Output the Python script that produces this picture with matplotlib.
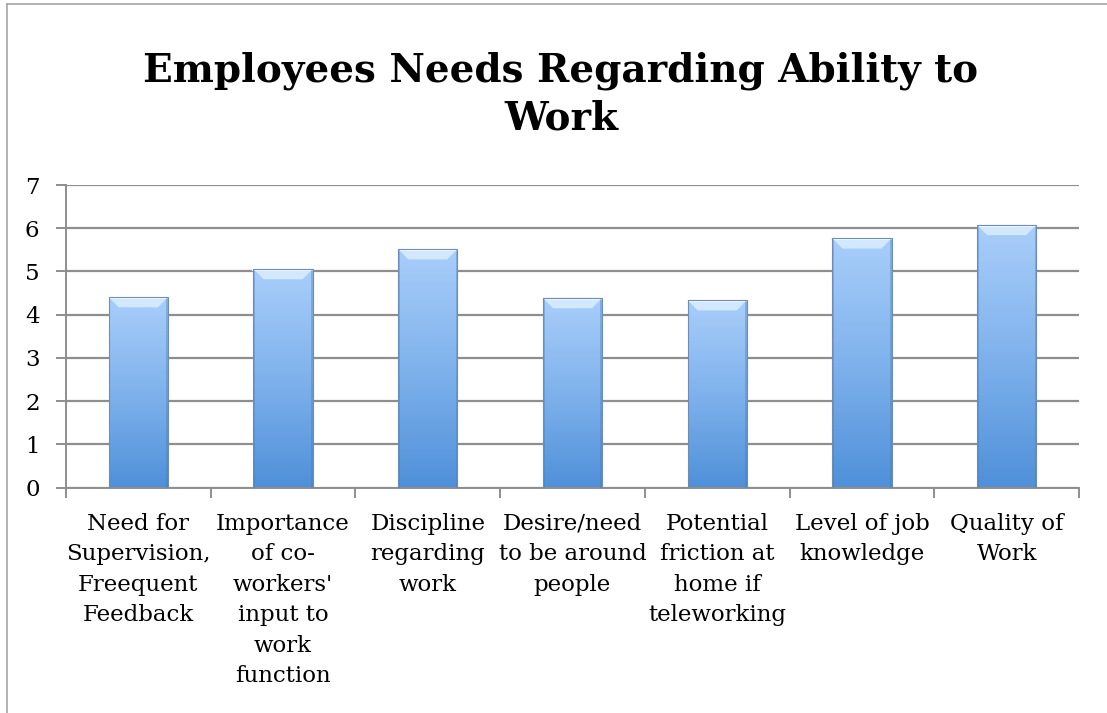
import numpy as np
import matplotlib.pyplot as plt
from matplotlib.colors import LinearSegmentedColormap
from matplotlib.patches import Polygon
from matplotlib.lines import Line2D

# survey averages per item
categories = [
    "Need for\nSupervision,\nFreequent\nFeedback",
    "Importance\nof co-\nworkers'\ninput to\nwork\nfunction",
    "Discipline\nregarding\nwork",
    "Desire/need\nto be around\npeople",
    "Potential\nfriction at\nhome if\nteleworking",
    "Level of job\nknowledge",
    "Quality of\nWork",
]
scores = [4.41, 5.06, 5.52, 4.39, 4.34, 5.77, 6.08]
yticks = [0, 1, 2, 3, 4, 5, 6, 7]

plt.rcParams['font.family'] = ['DejaVu Serif']

fig = plt.figure(figsize=(11.07, 7.13), dpi=100)
ax = fig.add_axes([66 / 1107, 1 - 487.7 / 713, (1079 - 66) / 1107, (487.7 - 185) / 713])

x = np.arange(len(scores))
bars = ax.bar(x, scores, width=0.41, color='none', edgecolor='#6d8db5', linewidth=0.8, zorder=3)

# vertical blue gradient inside each bar
grad = LinearSegmentedColormap.from_list('blu', ['#4f90d9', '#7fb2ec', '#a9cefa'])
g = np.linspace(0, 1, 256).reshape(-1, 1)
for b in bars:
    x0, w, h = b.get_x(), b.get_width(), b.get_height()
    im = ax.imshow(g, cmap=grad, origin='lower', aspect='auto',
                   extent=(x0, x0 + w, 0, h), zorder=2)
    im.set_clip_path(b)
    # bevel on top
    bh, bi = 0.24, 0.07
    top = Polygon([(x0, h), (x0 + w, h), (x0 + w - bi, h - bh), (x0 + bi, h - bh)],
                  closed=True, facecolor='#d6ecff', edgecolor='none', alpha=0.9, zorder=2.5)
    ax.add_patch(top)
    ax.plot([x0, x0 + w], [h - 0.03, h - 0.03], color='#f4fbff', lw=1.5, zorder=2.6)
    # darker side shading
    for xs in (x0, x0 + w - 0.012):
        ax.add_patch(plt.Rectangle((xs, 0), 0.012, h, facecolor='#3f77b8', alpha=0.35,
                                   edgecolor='none', zorder=2.6))

ax.set_xlim(-0.5, len(scores) - 0.5)
ax.set_ylim(0, 7)
ax.set_yticks(yticks)
ax.yaxis.grid(True, color='#8e8e8e', linewidth=1.6, zorder=1)
ax.set_axisbelow(True)

ax.set_xticks(x)
ax.set_xticklabels(categories, fontsize=16.5, linespacing=1.5, va='top')
ax.set_xticks(np.arange(-0.5, len(scores)), minor=True)
ax.tick_params(axis='x', which='major', length=0, pad=18)
ax.tick_params(axis='x', which='minor', length=7, width=1.4, color='#8e8e8e')
ax.tick_params(axis='y', length=7, width=1.4, color='#8e8e8e', labelsize=16.5, pad=12)

for s in ('top', 'right'):
    ax.spines[s].set_visible(False)
for s in ('left', 'bottom'):
    ax.spines[s].set_color('#8e8e8e')
    ax.spines[s].set_linewidth(1.4)

fig.text(561 / 1107, 1 - 51 / 713, "Employees Needs Regarding Ability to\nWork",
         ha='center', va='top', fontsize=28, fontweight='bold', linespacing=1.33)

# outer chart frame
fig.add_artist(Line2D([7 / 1107, 7 / 1107], [0, 1 - 4 / 713], color='#a6a6a6', lw=1.2))
fig.add_artist(Line2D([7 / 1107, 1], [1 - 4 / 713, 1 - 4 / 713], color='#a6a6a6', lw=1.2))

fig.savefig('out.png', dpi=100)
